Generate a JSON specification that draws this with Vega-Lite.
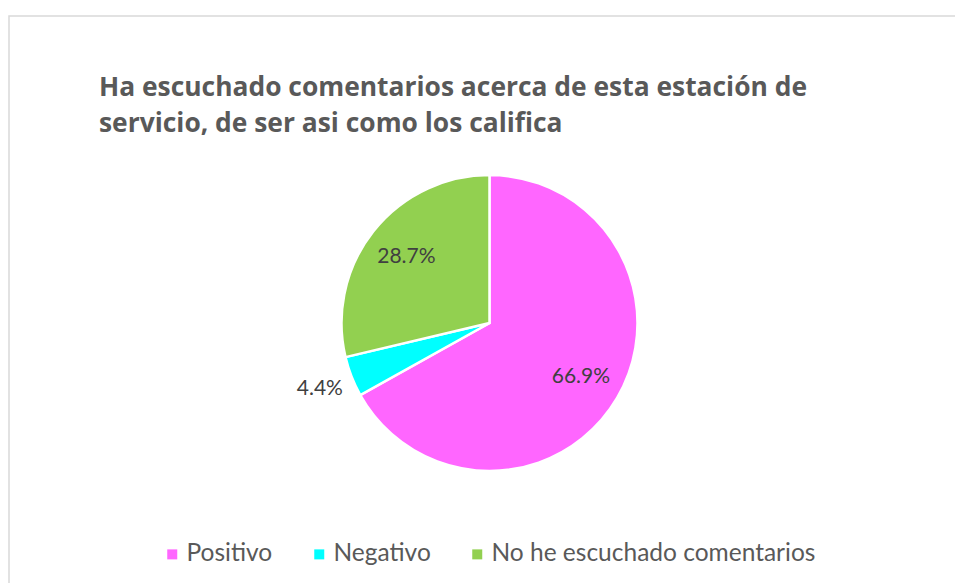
{
  "$schema": "https://vega.github.io/schema/vega-lite/v6.json",
  "autosize": {"type": "none"},
  "width": 950,
  "height": 570,
  "padding": {"left": 9, "top": 16, "right": 0, "bottom": 0},
  "background": "white",
  "config": {
    "view": {"stroke": "#d9d9d9", "strokeWidth": 1.5},
    "font": "Lato"
  },
  "title": {
    "text": ["Ha escuchado comentarios acerca de esta estación de", "servicio, de ser asi como los califica"],
    "orient": "top",
    "anchor": "start",
    "frame": "group",
    "baseline": "alphabetic",
    "offset": 0,
    "dx": 90,
    "dy": 142,
    "lineHeight": 36,
    "font": "Open Sans",
    "fontSize": 26.4,
    "fontWeight": "bold",
    "color": "#595959"
  },
  "data": {
    "values": [
      {"categoria": "Positivo", "valor": 0.669, "orden": 1},
      {"categoria": "Negativo", "valor": 0.044, "orden": 2},
      {"categoria": "No he escuchado comentarios", "valor": 0.287, "orden": 3}
    ]
  },
  "encoding": {
    "theta": {"field": "valor", "type": "quantitative", "stack": true},
    "order": {"field": "orden", "type": "quantitative"},
    "x": {"value": 480.5},
    "y": {"value": 307}
  },
  "layer": [
    {
      "mark": {"type": "arc", "outerRadius": 148, "stroke": "white", "strokeWidth": 2.5},
      "encoding": {
        "color": {
          "field": "categoria",
          "type": "nominal",
          "scale": {
            "domain": ["Positivo", "Negativo", "No he escuchado comentarios"],
            "range": ["#ff66ff", "#00ffff", "#92d050"]
          },
          "legend": {
            "title": null,
            "orient": "none",
            "direction": "horizontal",
            "legendX": 151,
            "legendY": 526,
            "padding": 0,
            "symbolType": "square",
            "symbolSize": 100,
            "symbolStrokeWidth": 0,
            "labelFont": "Lato",
            "labelFontSize": 24.5,
            "labelColor": "#595959",
            "labelOffset": 2,
            "columnPadding": 34,
            "labelLimit": 0
          }
        }
      }
    },
    {
      "mark": {"type": "text", "radius": 106, "font": "Lato", "fontSize": 21, "color": "#404040"},
      "encoding": {
        "text": {"condition": {"test": "datum.valor > 0.1", "field": "valor", "format": ".1%"}, "value": ""}
      }
    },
    {
      "mark": {"type": "text", "radius": 182, "font": "Lato", "fontSize": 21, "color": "#404040"},
      "encoding": {
        "text": {"condition": {"test": "datum.valor <= 0.1", "field": "valor", "format": ".1%"}, "value": ""}
      }
    }
  ]
}
